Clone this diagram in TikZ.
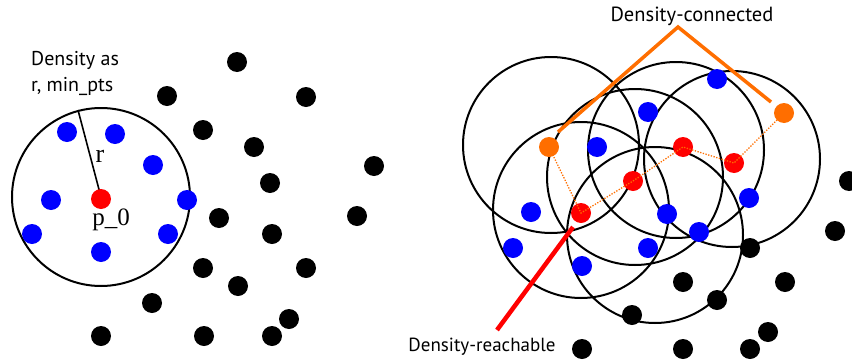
\documentclass[tikz,border=0pt]{standalone}
\usepackage{fontspec}
\newfontfamily\labfont{PT Sans}
\newfontfamily\serfont{Liberation Serif}
\begin{document}
\begin{tikzpicture}[x=1pt,y=-1pt,
  dot/.style={circle,inner sep=0pt,minimum size=20pt},
  bdot/.style={dot,fill=blue},
  rdot/.style={dot,fill=red},
  odot/.style={dot,fill=dotorange},
  kdot/.style={dot,fill=black},
  ring/.style={line width=2pt,black},
  dotline/.style={dotorange,line width=1.3pt,dash pattern=on 1.3pt off 1.5pt},
  orangeline/.style={dotorange,line width=3.5pt},
  redline/.style={red,line width=4.5pt},
  lab/.style={inner sep=0pt}
]
\definecolor{dotorange}{RGB}{255,110,0}
\useasboundingbox (0,0) rectangle (852,362);
% ---------- left panel ----------
\coordinate (lc) at (101,197);
\coordinate (rend) at (78,110);
\draw[ring] (lc) circle[radius=89];
\draw[line width=1.6pt] (lc) -- (rend);
\node[lab,anchor=west,align=left,font=\labfont\fontsize{20}{26}\selectfont] (dens) at (31,73) {Density as\\r, min\_pts};
\node[font=\serfont\fontsize{26}{26}\selectfont,inner sep=0pt] (rlab) at (100,156) {r};
\node[font=\serfont\fontsize{25}{25}\selectfont,inner sep=0pt] (p0lab) at (111,220) {p\_0};
\node[rdot] (p0) at (101,199) {};
\foreach \n/\x/\y in {b1/67/132,b2/115/134,b3/153/165,b4/51/200,b5/187/200,b6/32/234,b7/168/234,b8/101/252}
  \node[bdot] (\n) at (\x,\y) {};
\foreach \n/\x/\y in {k1/237/62,k2/167/96,k3/306/97,k4/203/130,k5/254/147,k6/374/166,k7/270/183,k8/357/216,k9/219/218,k10/272/234,k11/203/268,k12/306/268,k13/238/286,k14/152/303,k15/289/319,k16/101/336,k17/204/336,k18/272/336}
  \node[kdot] (\n) at (\x,\y) {};
% ---------- right panel ----------
\foreach \x/\y in {551/145,581/210,635/177,676/150,655/235,732/159}
  \draw[ring] (\x,\y) circle[radius=88];
\node[odot] (o1) at (549,147) {};
\node[odot] (o2) at (784,113) {};
\node[rdot] (r1) at (581,213) {};
\node[rdot] (r2) at (633,181) {};
\node[rdot] (r3) at (683,147) {};
\node[rdot] (r4) at (734,163) {};
\foreach \n/\x/\y in {c1/717/79,c2/648/112,c3/597/147,c4/531/212,c5/513/248,c6/582/266,c7/648/248,c8/667/214,c9/699/232,c10/749/198}
  \node[bdot] (\n) at (\x,\y) {};
\foreach \n/\x/\y in {m1/849/181,m2/835/231,m3/750/248,m4/683/282,m5/785/282,m6/717/300,m7/632/315,m8/768/332,m9/582/349,m10/683/349,m11/750/349}
  \node[kdot] (\n) at (\x,\y) {};
\draw[dotline] (o1.center) -- (r1.center) -- (r2.center) -- (r3.center) -- (r4.center) -- (o2.center);
% labels and pointers
\node[lab,anchor=base,font=\labfont\fontsize{20.5}{20.5}\selectfont] (conn) at (692,21) {Density-connected};
\coordinate (apex) at (678,27);
\coordinate (cl) at (558,132);
\coordinate (cr) at (771,102);
\draw[orangeline] (cl) -- (apex) -- (cr);
\node[lab,anchor=base,font=\labfont\fontsize{19}{19}\selectfont] (reach) at (482,351) {Density-reachable};
\coordinate (rtop) at (573,227);
\coordinate (rbot) at (497,330);
\draw[redline] (rtop) -- (rbot);
\end{tikzpicture}
\end{document}
